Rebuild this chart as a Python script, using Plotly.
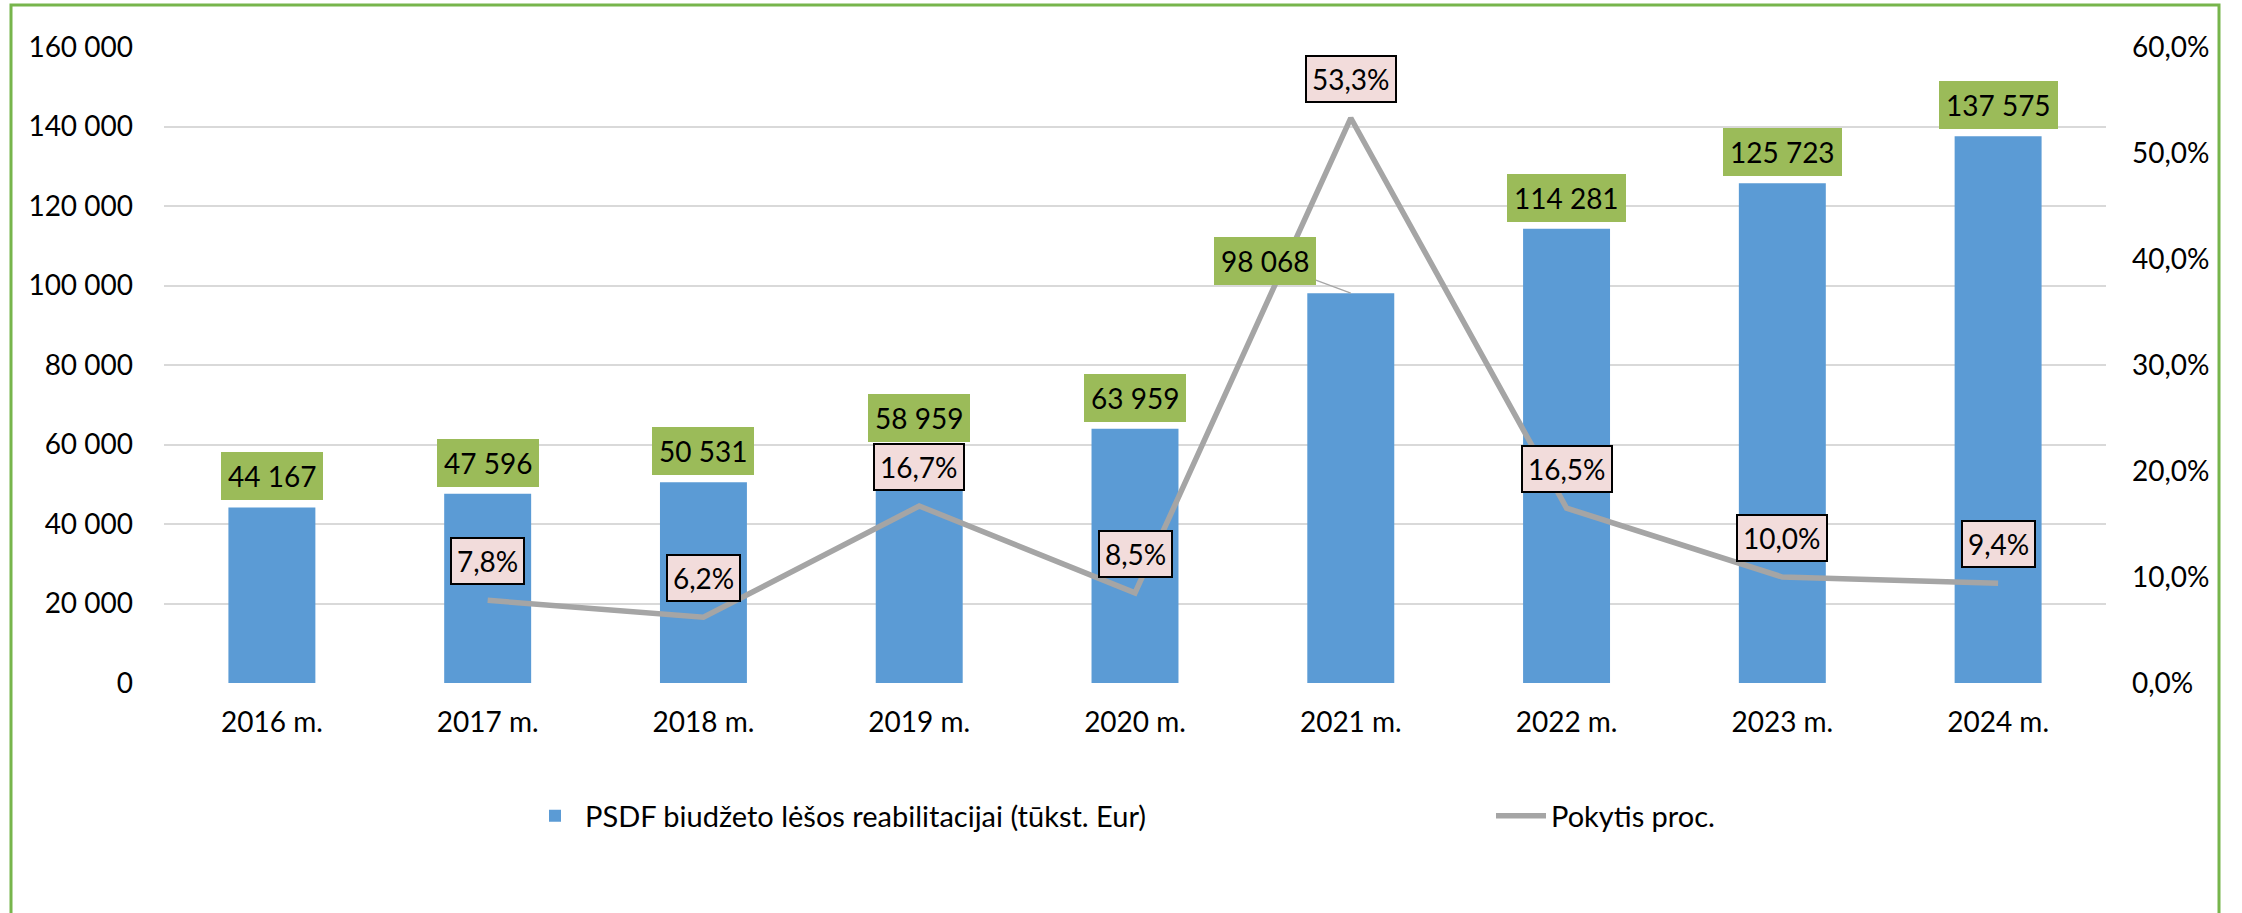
import plotly.graph_objects as go

categories = ["2016 m.", "2017 m.", "2018 m.", "2019 m.", "2020 m.", "2021 m.", "2022 m.", "2023 m.", "2024 m."]
budget = [44167, 47596, 50531, 58959, 63959, 98068, 114281, 125723, 137575]
change_cats = ["2017 m.", "2018 m.", "2019 m.", "2020 m.", "2021 m.", "2022 m.", "2023 m.", "2024 m."]
change_pct = [7.8, 6.2, 16.7, 8.5, 53.3, 16.5, 10.0, 9.4]
left_ticks = [0, 20000, 40000, 60000, 80000, 100000, 120000, 140000, 160000]
left_ticktext = ["0", "20 000", "40 000", "60 000", "80 000", "100 000", "120 000", "140 000", "160 000"]
right_ticks = [0, 10, 20, 30, 40, 50, 60]
right_ticktext = ["0,0%", "10,0%", "20,0%", "30,0%", "40,0%", "50,0%", "60,0%"]
bar_name = "PSDF biudžeto lėšos reabilitacijai (tūkst. Eur)"
line_name = "Pokytis proc."

FONT = "Lato, Carlito, Calibri, sans-serif"
W, H = 2242, 913
ML, MR, MT, MB = 164, 136, 47, 230
PW = W - ML - MR
PH = H - MT - MB


def px_x(p):
    return (p - ML) / PW


def px_y(p):
    return (H - MB - p) / PH


def fmt_int(v):
    return f"{v:,}".replace(",", " ")


def fmt_pct(v):
    return f"{v:.1f}".replace(".", ",") + "%"


fig = go.Figure()
fig.add_trace(go.Bar(
    x=categories, y=budget, name=bar_name,
    marker=dict(color="#5B9BD5", line=dict(width=0)),
    yaxis="y", legend="legend",
))
fig.add_trace(go.Scatter(
    x=change_cats, y=change_pct, name=line_name, mode="lines",
    line=dict(color="#A5A5A5", width=5.5),
    yaxis="y2", legend="legend2",
))

annotations = []
for c, v in zip(categories, budget):
    if c == "2021 m.":
        annotations.append(dict(
            x=c, y=v, xref="x", yref="y", text=fmt_int(v),
            showarrow=True, arrowhead=0, arrowwidth=1.2, arrowcolor="#A6A6A6",
            ax=-86, ay=-32, standoff=0,
            bgcolor="#9BBB59", borderpad=7, borderwidth=0,
            font=dict(family=FONT, size=28, color="#000000"),
        ))
    else:
        annotations.append(dict(
            x=c, y=v, xref="x", yref="y", text=fmt_int(v),
            showarrow=False, yanchor="bottom", yshift=7,
            bgcolor="#9BBB59", borderpad=7, borderwidth=0,
            font=dict(family=FONT, size=28, color="#000000"),
        ))
for c, v in zip(change_cats, change_pct):
    annotations.append(dict(
        x=c, y=v, xref="x", yref="y2", text=fmt_pct(v),
        showarrow=False, yanchor="middle", yshift=39,
        bgcolor="#F2DCDB", bordercolor="#000000", borderwidth=2, borderpad=5,
        font=dict(family=FONT, size=28, color="#000000"),
    ))

legend_font = dict(family=FONT, size=29, color="#000000")

fig.update_layout(
    width=W, height=H,
    margin=dict(l=ML, r=MR, t=MT, b=MB, pad=0, autoexpand=False),
    paper_bgcolor="white", plot_bgcolor="white",
    font=dict(family=FONT, size=28, color="#000000"),
    bargap=0.597,
    showlegend=True,
    legend=dict(
        orientation="h", x=px_x(525), xanchor="left",
        y=px_y(816), yanchor="middle", itemwidth=50,
        font=legend_font, bgcolor="rgba(0,0,0,0)",
    ),
    legend2=dict(
        orientation="h", x=px_x(1491), xanchor="left",
        y=px_y(816), yanchor="middle", itemwidth=50,
        font=legend_font, bgcolor="rgba(0,0,0,0)",
    ),
    xaxis=dict(
        type="category", categoryorder="array", categoryarray=categories,
        showgrid=False, showline=False, zeroline=False, ticks="",
        ticklabelstandoff=20,
        tickfont=dict(family=FONT, size=28, color="#000000"),
    ),
    yaxis=dict(
        range=[0, 160000], tickvals=left_ticks, ticktext=left_ticktext,
        showgrid=True, gridcolor="#D9D9D9", gridwidth=2,
        zeroline=False, showline=False, ticks="",
        ticklabelstandoff=30,
        tickfont=dict(family=FONT, size=28, color="#000000"),
    ),
    yaxis2=dict(
        range=[0, 60], tickvals=right_ticks, ticktext=right_ticktext,
        overlaying="y", side="right", showgrid=False, zeroline=False,
        showline=False, ticks="", ticklabelstandoff=25,
        tickfont=dict(family=FONT, size=28, color="#000000"),
    ),
    annotations=annotations,
    shapes=[dict(
        type="rect", xref="paper", yref="paper",
        x0=px_x(11), x1=px_x(2219), y0=px_y(930), y1=px_y(5),
        line=dict(color="#77B54C", width=3), fillcolor="rgba(0,0,0,0)",
        layer="above",
    )],
)

fig.write_html(
    "out.html",
    config={"displayModeBar": False},
    post_script="document.body.style.margin='0';document.body.style.overflow='hidden';",
)
